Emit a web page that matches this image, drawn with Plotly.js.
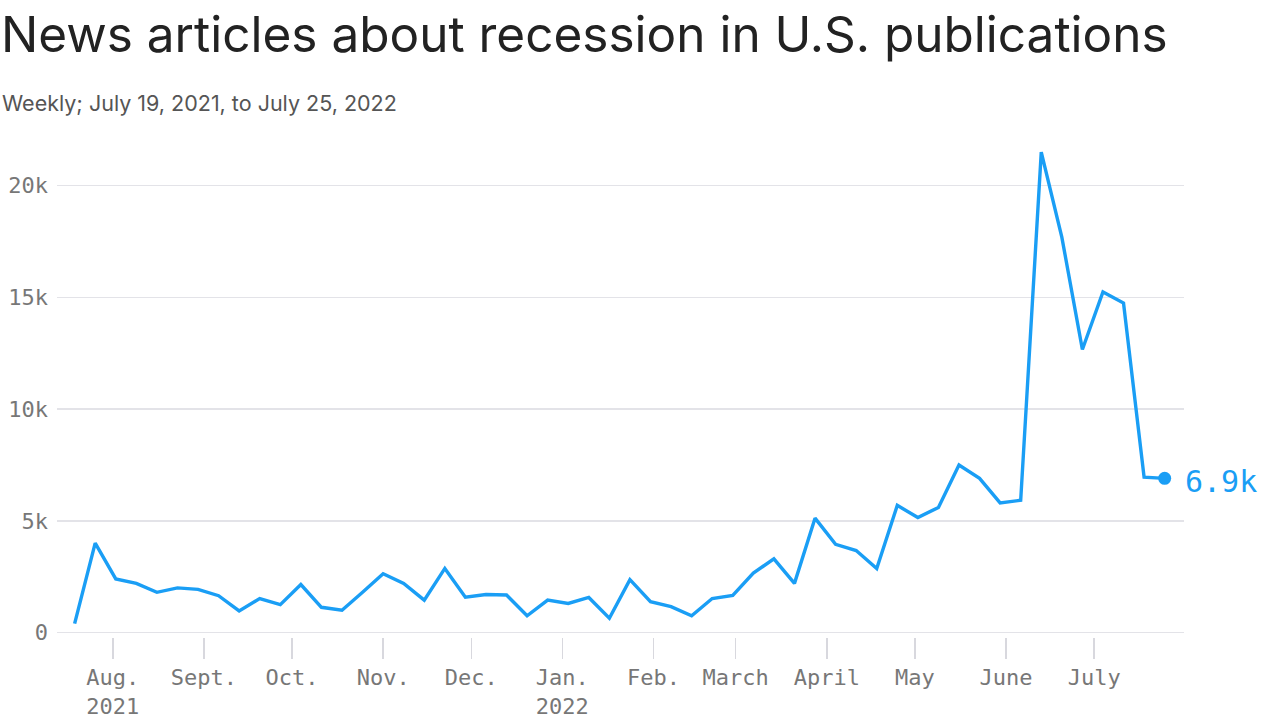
<!DOCTYPE html>
<html>
<head>
<meta charset="utf-8">
<script src="https://cdn.plot.ly/plotly-3.0.1.min.js"></script>
<style>
  html, body { margin: 0; padding: 0; background: #fff; }
  #chart { width: 1280px; height: 719px; }
</style>
</head>
<body>
<div id="chart"></div>
<script>
const weeks = [
  "2021-07-19","2021-07-26","2021-08-02","2021-08-09","2021-08-16","2021-08-23","2021-08-30",
  "2021-09-06","2021-09-13","2021-09-20","2021-09-27","2021-10-04","2021-10-11","2021-10-18",
  "2021-10-25","2021-11-01","2021-11-08","2021-11-15","2021-11-22","2021-11-29","2021-12-06",
  "2021-12-13","2021-12-20","2021-12-27","2022-01-03","2022-01-10","2022-01-17","2022-01-24",
  "2022-01-31","2022-02-07","2022-02-14","2022-02-21","2022-02-28","2022-03-07","2022-03-14",
  "2022-03-21","2022-03-28","2022-04-04","2022-04-11","2022-04-18","2022-04-25","2022-05-02",
  "2022-05-09","2022-05-16","2022-05-23","2022-05-30","2022-06-06","2022-06-13","2022-06-20",
  "2022-06-27","2022-07-04","2022-07-11","2022-07-18","2022-07-25"
];
const articles = [
  400, 4000, 2400, 2200, 1800, 2000, 1930,
  1650, 970, 1520, 1250, 2150, 1130, 1000,
  1800, 2630, 2200, 1450, 2870, 1580, 1700,
  1680, 750, 1450, 1300, 1570, 640, 2370,
  1380, 1160, 750, 1520, 1660, 2660, 3300,
  2200, 5120, 3950, 3670, 2860, 5690, 5150,
  5600, 7500, 6900, 5800, 5920, 21500, 17700,
  12670, 15240, 14750, 6950, 6900
];
const monthTicks = ["2021-08-01","2021-09-01","2021-10-01","2021-11-01","2021-12-01","2022-01-01",
  "2022-02-01","2022-03-01","2022-04-01","2022-05-01","2022-06-01","2022-07-01"];
const monthLabels = ["Aug.<br>2021","Sept.","Oct.","Nov.","Dec.","Jan.<br>2022",
  "Feb.","March","April","May","June","July"];
const yTicks = [0, 5000, 10000, 15000, 20000];
const yLabels = ["0", "5k", "10k", "15k", "20k"];
const endLabel = "6.9k";

const blue = "#1a9ef5";
const mono = "DejaVu Sans Mono, monospace";
const last = weeks.length - 1;

const traces = [
  {
    x: weeks, y: articles, type: "scatter", mode: "lines",
    line: { color: blue, width: 3.4 }, hoverinfo: "skip"
  },
  {
    x: [weeks[last]], y: [articles[last]], type: "scatter", mode: "markers",
    marker: { color: blue, size: 13 }, cliponaxis: false, hoverinfo: "skip"
  }
];

const layout = {
  width: 1280, height: 719,
  margin: { l: 57, r: 96, t: 141, b: 82 },
  paper_bgcolor: "#fff", plot_bgcolor: "#fff",
  showlegend: false,
  xaxis: {
    type: "date",
    range: ["2021-07-13", "2022-07-31 14:00"],
    tickmode: "array", tickvals: monthTicks, ticktext: monthLabels,
    ticks: "outside", ticklen: 21, tickwidth: 1.5, tickcolor: "#d8d8de",
    showgrid: false, zeroline: false, showline: false,
    tickfont: { family: mono, size: 22, color: "#777" }
  },
  yaxis: {
    range: [-200, 22000],
    tickmode: "array", tickvals: yTicks, ticktext: yLabels,
    ticks: "", showgrid: true, gridcolor: "#e3e3e8", gridwidth: 1.5,
    zeroline: false, showline: false, ticklabelstandoff: 8,
    tickfont: { family: mono, size: 22, color: "#777" }
  },
  annotations: [
    {
      xref: "paper", yref: "paper", x: -0.0515, y: 1.2157,
      xanchor: "left", yanchor: "middle", showarrow: false,
      text: "News articles about recession in U.S. publications",
      font: { family: "Inter, sans-serif", size: 49.5, color: "#222" }
    },
    {
      xref: "paper", yref: "paper", x: -0.0505, y: 1.0766,
      xanchor: "left", yanchor: "middle", showarrow: false,
      text: "Weekly; July 19, 2021, to July 25, 2022",
      font: { family: "Inter, sans-serif", size: 21.5, color: "#555" }
    },
    {
      x: weeks[last], y: articles[last], xref: "x", yref: "y",
      xanchor: "left", yanchor: "middle", xshift: 18, yshift: -3, showarrow: false,
      text: endLabel,
      font: { family: mono, size: 30, color: blue }
    }
  ]
};

Plotly.newPlot("chart", traces, layout, { staticPlot: true, displayModeBar: false });
</script>
</body>
</html>
